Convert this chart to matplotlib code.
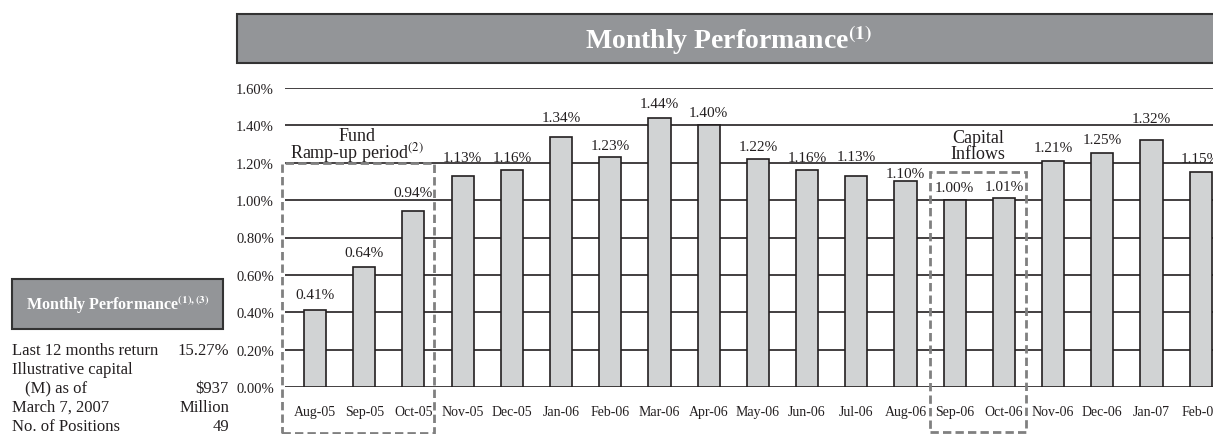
import matplotlib
matplotlib.use("Agg")
import matplotlib.pyplot as plt
from matplotlib.patches import Rectangle

months = ["Aug-05", "Sep-05", "Oct-05", "Nov-05", "Dec-05", "Jan-06", "Feb-06",
          "Mar-06", "Apr-06", "May-06", "Jun-06", "Jul-06", "Aug-06", "Sep-06",
          "Oct-06", "Nov-06", "Dec-06", "Jan-07", "Feb-07"]
returns = [0.41, 0.64, 0.94, 1.13, 1.16, 1.34, 1.23, 1.44, 1.40, 1.22,
           1.16, 1.13, 1.10, 1.00, 1.01, 1.21, 1.25, 1.32, 1.15]
yticks = [0.0, 0.2, 0.4, 0.6, 0.8, 1.0, 1.2, 1.4, 1.6]

side_labels = ["Last 12 months return", "Illustrative capital", "(M) as of",
               "March 7, 2007", "No. of Positions"]
side_values = ["15.27%", "", "$937", "Million", "49"]

# how far each value label sits above its bar (px), labels dodge the gridlines
label_lift = [16, 15, 19, 18, 13, 19, 12, 14, 13, 13, 13, 19, 8, 13, 12, 13, 14, 22, 14]

plt.rcParams["font.family"] = ["Liberation Serif", "DejaVu Serif"]
plt.rcParams["mathtext.fontset"] = "stix"

W, H = 1213, 435
fig = plt.figure(figsize=(W / 100, H / 100), dpi=100)

def fx(px):
    return px / W

def fy(py):
    return 1 - py / H

ax = fig.add_axes([fx(285), fy(388), fx(W - 285), (388 - 89) / H])
ax.bar(range(len(returns)), returns, width=0.45, color="#d1d3d4",
       edgecolor="#231f20", linewidth=1.2, zorder=3)
for i, v in enumerate(returns):
    ax.annotate(f"{v:.2f}%", (i, v), xytext=(0, label_lift[i] * 0.72),
                textcoords="offset points", ha="center", va="center",
                fontsize=11, color="#231f20")

ax.set_xlim(-0.61, 18.25)
ax.set_ylim(0, 1.6)
ax.set_yticks(yticks)
ax.set_yticklabels([f"{t:.2f}%" for t in yticks], fontsize=10.5, color="#231f20")
ax.set_xticks(range(len(months)))
ax.set_xticklabels(months, fontsize=10, color="#231f20")
ax.tick_params(length=0)
ax.tick_params(axis="y", pad=8)
ax.tick_params(axis="x", pad=13)
for s in ax.spines.values():
    s.set_visible(False)
ax.yaxis.grid(True, color="#231f20", linewidth=1.2)
ax.set_axisbelow(True)

# dashed boxes around ramp-up and capital inflow periods
ax.add_patch(Rectangle((-0.67, -0.245), 3.09, 1.445, fill=False, edgecolor="#808080",
                       linewidth=2, linestyle=(0, (3, 1.5)), clip_on=False, zorder=4))
ax.add_patch(Rectangle((12.5, -0.24), 1.95, 1.392, fill=False, edgecolor="#808080",
                       linewidth=2, linestyle=(0, (3, 1.5)), clip_on=False, zorder=4))
ax.text(0.85, 1.195, "Fund\nRamp-up period$^{(2)}$", ha="center", va="bottom",
        fontsize=13, linespacing=0.75, color="#231f20")
ax.text(13.48, 1.205, "Capital\nInflows", ha="center", va="bottom",
        fontsize=13, linespacing=0.9, color="#231f20")

# title banner
fig.patches.append(Rectangle((fx(237), fy(64)), fx(W), (64 - 15) / H,
                             transform=fig.transFigure, facecolor="#939598",
                             edgecolor="#333333", linewidth=1.5))
fig.text(fx(728), fy(40), r"Monthly Performance$^{\mathbf{(1)}}$", ha="center",
         va="center", fontsize=20, fontweight="bold", color="white")

# side panel
fig.patches.append(Rectangle((fx(12), fy(330)), fx(223 - 12), (330 - 280) / H,
                             transform=fig.transFigure, facecolor="#939598",
                             edgecolor="#333333", linewidth=1.5))
fig.text(fx(118), fy(304), r"Monthly Performance$^{\mathbf{(1),(3)}}$", ha="center",
         va="center", fontsize=11.5, fontweight="bold", color="white")
for k, (lab, val) in enumerate(zip(side_labels, side_values)):
    y = fy(351 + 19 * k)
    x0 = 25 if lab.startswith("(M)") else 12
    fig.text(fx(x0), y, lab, ha="left", va="center", fontsize=12, color="#231f20")
    fig.text(fx(229), y, val, ha="right", va="center", fontsize=12, color="#231f20")

fig.savefig("out.png", dpi=100)
